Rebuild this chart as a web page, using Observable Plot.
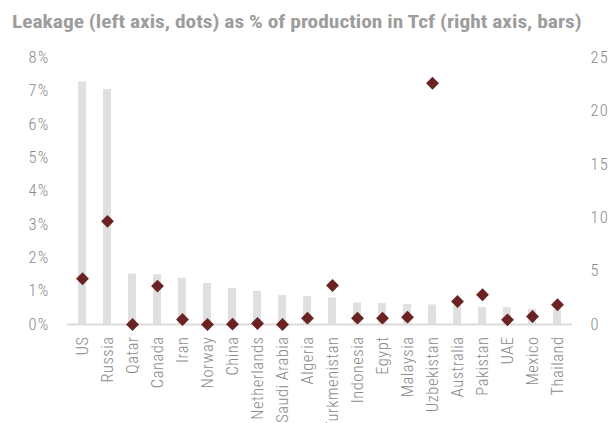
<!DOCTYPE html>
<html>
<head>
<meta charset="utf-8">
<script src="https://cdn.jsdelivr.net/npm/d3@7"></script>
<script src="https://cdn.jsdelivr.net/npm/@observablehq/plot@0.6"></script>
<style>
  body { margin: 0; background: #fff; overflow: hidden; }
  #sub {
    font-family: "Roboto Condensed", "DejaVu Sans Condensed", "Liberation Sans Narrow", Roboto, sans-serif;
    font-weight: bold;
    font-size: 18.5px;
    color: #9d9d9d;
    height: 40px;
    line-height: 18.5px;
    padding: 13px 0 0 10.4px;
    box-sizing: border-box;
    white-space: nowrap;
    transform: scaleX(1.157);
    transform-origin: 0 0;
  }
  #chart svg { display: block; }
  #chart svg text { letter-spacing: 1.2px; }
  #chart svg g[aria-label="x-axis tick label"] text { letter-spacing: 0.5px; }
</style>
</head>
<body>
<div id="sub">Leakage (left axis, dots) as % of production in Tcf (right axis, bars)</div>
<div id="chart"></div>
<script>
// Countries, in order of gas production
const countries = ["US", "Russia", "Qatar", "Canada", "Iran", "Norway", "China", "Netherlands",
  "Saudi Arabia", "Algeria", "Turkmenistan", "Indonesia", "Egypt", "Malaysia", "Uzbekistan",
  "Australia", "Pakistan", "UAE", "Mexico", "Thailand"];

// Methane leakage as % of production (left axis, dots)
const leakagePct = [1.37, 3.09, 0.0, 1.15, 0.15, 0.0, 0.01, 0.03, 0.0, 0.19, 1.17, 0.19, 0.19,
  0.22, 7.23, 0.69, 0.89, 0.14, 0.24, 0.59];

// Gas production in Tcf (right axis, bars)
const productionTcf = [22.7, 22.0, 4.73, 4.66, 4.32, 3.85, 3.39, 3.11, 2.71, 2.61, 2.49, 2.02,
  1.96, 1.87, 1.83, 1.75, 1.60, 1.58, 1.43, 1.38];

// Axis ticks
const leftTicks = [0, 1, 2, 3, 4, 5, 6, 7, 8];
const rightTicks = [0, 5, 10, 15, 20, 25];

// The right axis (0–25 Tcf) shares the plot height with the left axis (0–8 %)
const leftMax = 8;
const rightMax = 25;
const tcfToPct = v => v * leftMax / rightMax;

const data = countries.map((country, i) => ({
  country,
  leak: leakagePct[i],
  tcf: productionTcf[i]
}));

const chart = Plot.plot({
  width: 610,
  height: 383,
  marginTop: 17,
  marginBottom: 99,
  marginLeft: 67,
  marginRight: 38,
  style: {
    fontFamily: '"Roboto Condensed", "DejaVu Sans Condensed", "Liberation Sans Narrow", Roboto, sans-serif',
    fontSize: "16.5px",
    fontWeight: 300,
    color: "#8a8a8a",
    background: "#fff"
  },
  x: { domain: countries, paddingInner: 0.68, paddingOuter: 0.34, label: null },
  y: { domain: [0, leftMax], label: null },
  marks: [
    Plot.barY(data, { x: "country", y: d => tcfToPct(d.tcf), fill: "#e0e0e0" }),
    Plot.ruleY([0], { stroke: "#dcdcdc", strokeWidth: 2 }),
    Plot.dot(data, { x: "country", y: "leak", symbol: "diamond2", r: 5.8, fill: "#6b2222", stroke: null }),
    Plot.axisY(leftTicks, { anchor: "left", tickSize: 0, tickPadding: 18, tickFormat: d => d + "%", label: null }),
    Plot.axisY(rightTicks.map(tcfToPct), {
      anchor: "right", tickSize: 0, tickPadding: 18,
      tickFormat: d => String(Math.round(d * rightMax / leftMax)), label: null
    }),
    Plot.axisX({ tickRotate: -90, tickSize: 0, tickPadding: 12, label: null })
  ]
});

document.getElementById("chart").appendChild(chart);
</script>
</body>
</html>
